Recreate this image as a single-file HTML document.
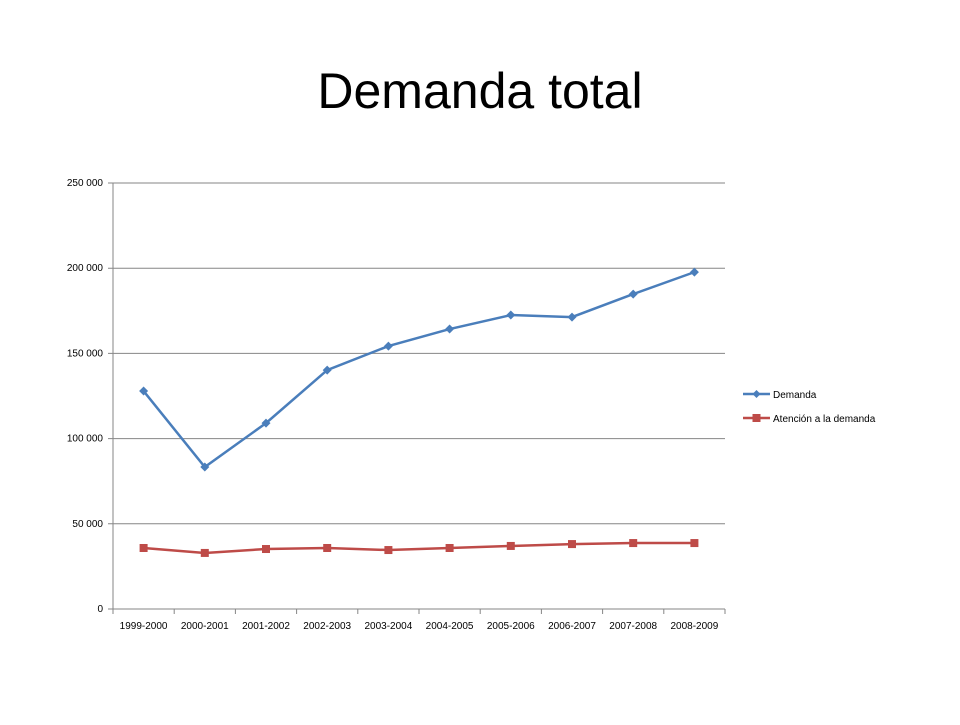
<!DOCTYPE html>
<html><head><meta charset="utf-8"><style>
body{margin:0;background:#fff;}
svg text{font-family:"Liberation Sans",sans-serif;}
</style></head><body>
<svg width="960" height="720">
<text x="480" y="108" text-anchor="middle" font-size="50" fill="#000">Demanda total</text>
<g id="grid"></g><g id="axes"></g><g id="series"></g>
<g>
<g>
<line x1="743" y1="394" x2="770" y2="394" stroke="#4a7ebb" stroke-width="2.5"/>
<path d="M756.5,390 L760.5,394 L756.5,398 L752.5,394Z" fill="#4a7ebb"/>
<text x="773" y="398" font-size="10" fill="#000">Demanda</text></g>
<g>
<line x1="743" y1="418" x2="770" y2="418" stroke="#be4b48" stroke-width="2.5"/>
<rect x="752.5" y="414" width="8" height="8" fill="#be4b48"/>
<text x="773" y="422" font-size="10" fill="#000">Atención a la demanda</text></g>
</g>
</svg>
<script>
const categories=["1999-2000","2000-2001","2001-2002","2002-2003","2003-2004","2004-2005","2005-2006","2006-2007","2007-2008","2008-2009"];
const demanda=[127900,83300,109100,140200,154300,164300,172500,171300,184800,197700];
const atencion=[35800,32900,35200,35800,34600,35800,37000,38100,38700,38700];
const yTicks=[0,50000,100000,150000,200000,250000];
const tickLabels=["0","50 000","100 000","150 000","200 000","250 000"];
const NS="http://www.w3.org/2000/svg";
const L=113,R=725,T=183,B=609,yMax=250000;
const bw=(R-L)/categories.length;
const xc=i=>L+bw*(i+0.5);
const ys=v=>B-(v/yMax)*(B-T);
function mk(tag,attrs,parent){const e=document.createElementNS(NS,tag);for(const k in attrs)e.setAttribute(k,attrs[k]);document.getElementById(parent).appendChild(e);return e;}
yTicks.forEach((v,i)=>{
 const g=mk("line",{x1:L-5,x2:R,y1:ys(v),y2:ys(v),stroke:v===0?"#868686":"#868686","stroke-width":1},"grid");
 
 
 const t=mk("text",{x:L-10,y:ys(v)+3,"text-anchor":"end","font-size":"10",fill:"#000"},"axes");
 t.textContent=tickLabels[i];
 
 
});
const ya=mk("line",{x1:L,x2:L,y1:T,y2:B,stroke:"#868686"},"axes");


for(let i=0;i<=categories.length;i++){mk("line",{x1:L+bw*i,x2:L+bw*i,y1:B,y2:B+5,stroke:"#868686"},"axes");}
categories.forEach((c,i)=>{
 const t=mk("text",{x:xc(i),y:B+20,"text-anchor":"middle","font-size":"10",fill:"#000"},"axes");
 t.textContent=c;
 
 
});
function series(vals,color,shape,name){
 const p=mk("polyline",{points:vals.map((v,i)=>xc(i)+","+ys(v)).join(" "),fill:"none",stroke:color,"stroke-width":2.5},"series");
 
 
 vals.forEach((v,i)=>{
  let m;
  if(shape==="d"){const x=xc(i),y=ys(v);m=mk("path",{d:`M${x},${y-4.5} L${x+4.5},${y} L${x},${y+4.5} L${x-4.5},${y}Z`,fill:color},"series");}
  else m=mk("rect",{x:xc(i)-4,y:ys(v)-4,width:8,height:8,fill:color},"series");
  
  
 });
}
series(demanda,"#4a7ebb","d","demanda");
series(atencion,"#be4b48","s","atencion");
</script>
</body></html>
